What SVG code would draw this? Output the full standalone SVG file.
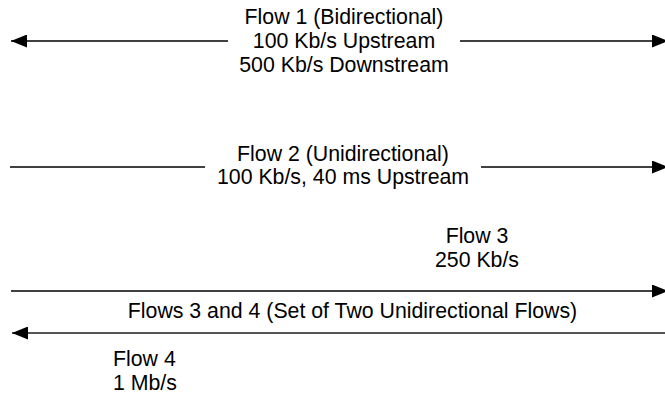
<svg xmlns="http://www.w3.org/2000/svg" width="665" height="396" viewBox="0 0 665 396">
<style>
text{font-family:"Liberation Sans",Arial,sans-serif;font-size:21.3px;fill:#000;text-anchor:middle}
.l{fill:none;stroke:#000;stroke-width:1.4}
.g{fill:none;stroke:#555;stroke-width:2}
</style>
<defs>
<marker id="ah" viewBox="0 0 16 13" refX="16" refY="6.5" markerWidth="16" markerHeight="13" markerUnits="userSpaceOnUse" orient="auto-start-reverse">
<path d="M0,0L16,6.5L0,13z" fill="#000"/>
</marker>
</defs>
<rect width="665" height="396" fill="#fff"/>
<g id="connectors">
<line class="l" x1="11" y1="41" x2="228" y2="41" marker-start="url(#ah)"/>
<line class="l" x1="460" y1="41" x2="668" y2="41" marker-end="url(#ah)"/>
<line class="l" x1="10" y1="167" x2="205" y2="167"/>
<line class="l" x1="481" y1="167" x2="668" y2="167" marker-end="url(#ah)"/>
<line class="l" x1="11" y1="291" x2="668" y2="291" marker-end="url(#ah)"/>
<line class="g" x1="12" y1="333" x2="665" y2="333" marker-start="url(#ah)"/>
</g>
<g id="flow1">
<text x="344" y="24">Flow 1 (Bidirectional)</text>
<text x="344" y="48">100 Kb/s Upstream</text>
<text x="344" y="72">500 Kb/s Downstream</text>
</g>
<g id="flow2">
<text x="343" y="161">Flow 2 (Unidirectional)</text>
<text x="343" y="184">100 Kb/s, 40 ms Upstream</text>
</g>
<g id="flow3">
<text x="477" y="243">Flow 3</text>
<text x="477" y="267">250 Kb/s</text>
</g>
<g id="flows34">
<text x="352.5" y="318">Flows 3 and 4 (Set of Two Unidirectional Flows)</text>
</g>
<g id="flow4">
<text x="113" y="366" style="text-anchor:start">Flow 4</text>
<text x="113" y="390" style="text-anchor:start">1 Mb/s</text>
</g>
</svg>
